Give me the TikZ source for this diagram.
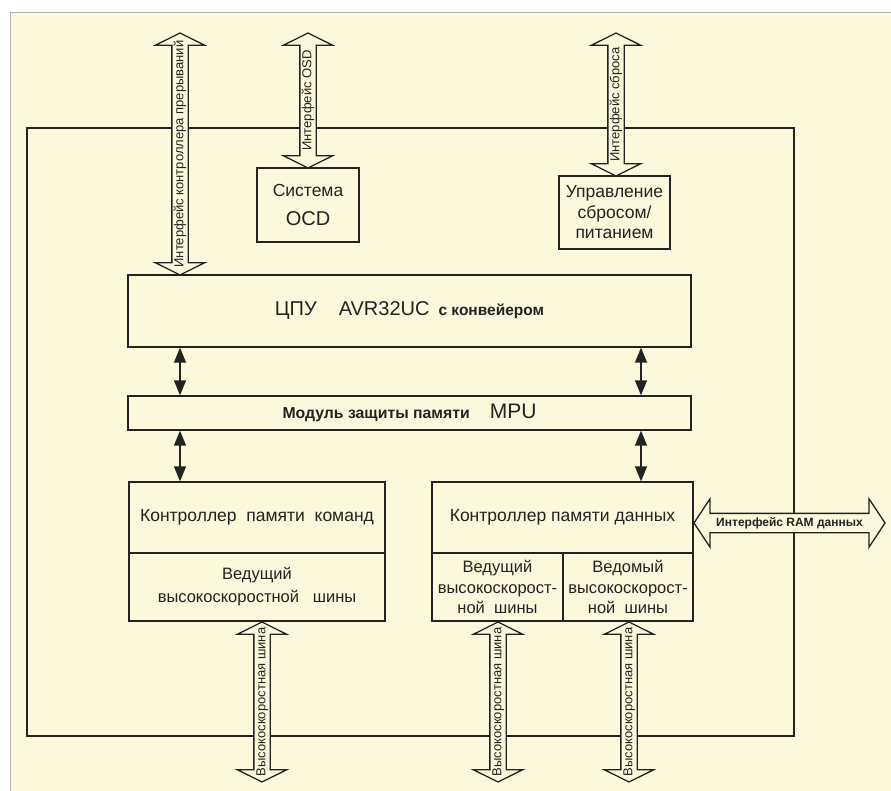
\documentclass[tikz,border=0pt]{standalone}
\usepackage{fontspec}
\setmainfont{Liberation Sans}
\usetikzlibrary{shapes.arrows,arrows.meta}
\definecolor{paper}{RGB}{252,248,219}
\definecolor{ink}{RGB}{35,35,35}

\begin{document}
\begin{tikzpicture}[x=1pt,y=-1pt,line width=1.3pt,
    box/.style={draw=ink,fill=paper,inner sep=0pt,text=ink,align=center,font=\fontsize{17.5}{20.5}\selectfont},
    hollow/.style={draw=ink,fill=paper,shape=double arrow,text=ink,inner xsep=0pt,minimum width=0pt},
    bus/.style={hollow,rotate=90,font=\fontsize{13}{15}\selectfont,text height=9pt,text depth=2.5pt,
        inner ysep=1.75pt,double arrow head extend=16.5pt,double arrow tip angle=127},
    link/.style={draw=ink,line width=1.4pt,{Triangle[width=12pt,length=15pt]}-{Triangle[width=12pt,length=15pt]}}]
    \useasboundingbox(0,0)rectangle(891,791);
    \fill[white](0,0)rectangle(891,791);
    \fill[paper](10,12)rectangle(891,791);
    \draw[gray!60,line width=.8pt](10,791)--(10,12)--(891,12);

    \node[draw=ink,minimum width=767pt,minimum height=608pt,inner sep=0pt](chip)at(410.5,432){};

    \node[box,minimum width=102pt,minimum height=74pt](ocd)at(308,205)
        {Система\\[9pt]{\fontsize{20}{20}\selectfont OCD}};
    \node[box,minimum width=111pt,minimum height=73pt](rst)at(614.5,212.5){Управление\\сбросом/\\питанием};
    \node[box,minimum width=563pt,minimum height=72pt](cpu)at(409.5,311)
        {{\fontsize{20}{22}\selectfont ЦПУ\hspace{22pt}AVR32UC}\hspace{9pt}{\bfseries\fontsize{15.5}{17}\selectfont с конвейером}};
    \node[box,minimum width=563pt,minimum height=34pt](mpu)at(409.5,413)
        {{\bfseries\fontsize{15.8}{17}\selectfont Модуль защиты памяти}\hspace{20pt}{\fontsize{21}{22}\selectfont MPU}};

    \node[box,minimum width=256pt,minimum height=71pt](imc)at(257,517.5){Контроллер\ \ памяти\ \ команд};
    \node[box,minimum width=256pt,minimum height=68pt,font=\fontsize{16.5}{23}\selectfont](imcb)at(257,587)
        {Ведущий\\высокоскоростной\ \ \ шины};
    \node[box,minimum width=261pt,minimum height=71pt](dmc)at(562.5,517.5){Контроллер памяти данных};
    \node[box,minimum width=131pt,minimum height=68pt,font=\fontsize{16.5}{20.5}\selectfont](dml)at(497.5,587)
        {Ведущий\\высокоскорост-\\ной\ \ шины};
    \node[box,minimum width=130pt,minimum height=68pt,font=\fontsize{16.5}{20.5}\selectfont](dmr)at(628,587)
        {Ведомый\\высокоскорост-\\ной\ \ шины};

    %% hollow buses
    \node[bus,minimum height=242pt](irq)at(180,154){Интерфейс контроллера прерываний};
    \node[bus,minimum height=135pt](osd)at(308,100.5){Интерфейс OSD};
    \node[bus,minimum height=143pt](rstif)at(616,104.5){Интерфейс сброса};
    \node[bus,minimum height=160pt](ibus)at(262,702){Высокоскоростная шина};
    \node[bus,minimum height=160pt](dbus)at(498,702){Высокоскоростная шина};
    \node[bus,minimum height=160pt](sbus)at(629,702){Высокоскоростная шина};
    \node[hollow,font=\bfseries\fontsize{12}{14}\selectfont,text height=9pt,text depth=2.5pt,inner ysep=3.25pt,
        double arrow head extend=14.5pt,double arrow tip angle=113,minimum height=191pt](ram)at(789.5,523)
        {Интерфейс RAM данных};

    \coordinate(lx)at(180,0);
    \coordinate(rx)at(641,0);
    \draw[link](cpu.south-|lx)--(mpu.north-|lx);
    \draw[link](cpu.south-|rx)--(mpu.north-|rx);
    \draw[link](mpu.south-|lx)--(imc.north-|lx);
    \draw[link](mpu.south-|rx)--(dmc.north-|rx);
\end{tikzpicture}
\end{document}
